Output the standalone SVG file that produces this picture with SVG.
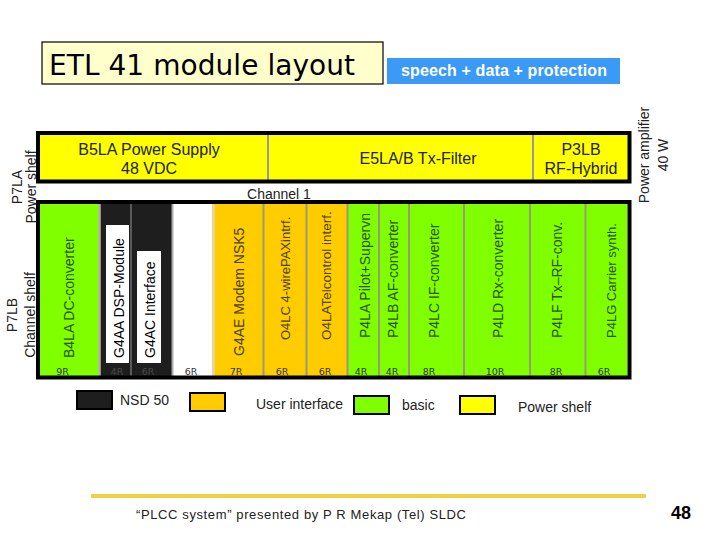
<svg xmlns="http://www.w3.org/2000/svg" width="720" height="540" viewBox="0 0 720 540">
<style>
  .lbl { font-family: "Liberation Sans", Arial, sans-serif; font-size: 14px; }
  .big { font-family: "Liberation Sans", Arial, sans-serif; font-size: 16px; fill: #222; }
  .gt { fill: #2d5200; }
  .ot { fill: #4d3f00; }
  .kt { fill: #000; }
  .r { font-family: "DejaVu Sans", Verdana, sans-serif; font-size: 9.5px; text-anchor: middle; fill: #333; }
  .rk { fill: #4a4a4a; }
  .div { stroke: #9a9a78; stroke-width: 2; }
  .frame { fill: none; stroke: #000; stroke-width: 4; }
  .leg { stroke: #000; stroke-width: 2; }
  .lt { font-family: "Liberation Sans", Arial, sans-serif; font-size: 14px; fill: #222; }
</style>
<rect width="720" height="540" fill="#fff"/>

<g id="title">
  <rect x="42" y="42" width="341" height="42" fill="#ffffcc" stroke="#000" stroke-width="1.2"/>
  <text x="49" y="75" font-family="DejaVu Sans, Verdana, sans-serif" font-size="28" textLength="306" fill="#000">ETL 41 module layout</text>
</g>

<g id="subtitle">
  <rect x="387" y="58" width="233" height="26" fill="#3a9af5"/>
  <text x="401" y="76" font-family="Liberation Sans, Arial, sans-serif" font-size="16" font-weight="bold" fill="#fff" textLength="206">speech + data  + protection</text>
</g>

<g id="shelf-labels" class="lbl" fill="#222">
  <text transform="translate(22,187) rotate(-90)" text-anchor="middle">P7LA</text>
  <text transform="translate(36,187) rotate(-90)" text-anchor="middle">Power shelf</text>
  <text transform="translate(17,315) rotate(-90)" text-anchor="middle">P7LB</text>
  <text transform="translate(35,315) rotate(-90)" text-anchor="middle">Channel shelf</text>
  <text transform="translate(649,155) rotate(-90)" text-anchor="middle">Power amplifier</text>
  <text transform="translate(668,155) rotate(-90)" text-anchor="middle">40 W</text>
</g>

<g id="power-shelf">
  <rect x="38" y="133" width="591.5" height="48.5" fill="#ffff00"/>
  <line x1="268" y1="134" x2="268" y2="180" stroke="#999" stroke-width="2"/>
  <line x1="533" y1="134" x2="533" y2="180" stroke="#999" stroke-width="2"/>
  <rect x="38" y="133" width="591.5" height="48.5" class="frame"/>
  <text x="149" y="155" class="big" text-anchor="middle">B5LA Power  Supply</text>
  <text x="149" y="174" class="big" text-anchor="middle">48 VDC</text>
  <text x="418" y="164" class="big" text-anchor="middle">E5LA/B Tx-Filter</text>
  <text x="581" y="155" class="big" text-anchor="middle">P3LB</text>
  <text x="581" y="173.5" class="big" text-anchor="middle">RF-Hybrid</text>
</g>

<text id="channel1" x="279" y="199" class="lbl" fill="#222" text-anchor="middle">Channel 1</text>

<g id="channel-shelf">
  <rect x="40" y="204" width="59.5" height="172" fill="#80ff00"/>
  <rect x="99.5" y="204" width="73" height="172" fill="#1e1e1e"/>
  <rect x="172.5" y="204" width="40.5" height="172" fill="#ffffff"/>
  <rect x="213" y="204" width="134.5" height="172" fill="#ffcc00"/>
  <rect x="347.5" y="204" width="280" height="172" fill="#80ff00"/>
  <rect x="106" y="225" width="23" height="138" fill="#fff"/>
  <rect x="137" y="251" width="24" height="112" fill="#fff"/>
  <line x1="99.5" y1="204" x2="99.5" y2="376" stroke="#b4b4a0" stroke-width="2.5"/>
  <line x1="131" y1="204" x2="131" y2="376" stroke="#5a5a5a" stroke-width="2"/>
  <line x1="172.5" y1="204" x2="172.5" y2="376" stroke="#aaa" stroke-width="2"/>
  <line x1="213.5" y1="204" x2="213.5" y2="376" stroke="#e6d890" stroke-width="3"/>
  <line x1="263.5" y1="204" x2="263.5" y2="376" class="div"/>
  <line x1="306.5" y1="204" x2="306.5" y2="376" class="div"/>
  <line x1="347.5" y1="204" x2="347.5" y2="376" class="div"/>
  <line x1="379" y1="204" x2="379" y2="376" class="div"/>
  <line x1="409" y1="204" x2="409" y2="376" class="div"/>
  <line x1="464" y1="204" x2="464" y2="376" class="div"/>
  <line x1="530" y1="204" x2="530" y2="376" class="div"/>
  <line x1="585.5" y1="204" x2="585.5" y2="376" class="div"/>
  <rect x="38" y="202" width="591.5" height="175.5" class="frame"/>
</g>

<g id="modules" class="lbl">
  <g id="m-b4la"><text class="gt" transform="translate(73.5,358) rotate(-90)">B4LA DC-converter</text><text class="r" x="62.5" y="374.5">9R</text></g>
  <g id="m-g4aa"><text class="kt" transform="translate(123.5,358) rotate(-90)">G4AA DSP-Module</text><text class="r rk" x="117" y="374.5">4R</text></g>
  <g id="m-g4ac"><text class="kt" transform="translate(155,358) rotate(-90)">G4AC Interface</text><text class="r rk" x="148" y="374.5">6R</text></g>
  <g id="m-empty"><text class="r" x="191" y="374.5" fill="#000">6R</text></g>
  <g id="m-g4ae"><text class="ot" transform="translate(244,356) rotate(-90)">G4AE Modem NSK5</text><text class="r" x="236" y="374.5">7R</text></g>
  <g id="m-o4lc"><text class="ot" transform="translate(290,340) rotate(-90)" font-size="13">O4LC 4-wirePAXintrf.</text><text class="r" x="282" y="374.5">6R</text></g>
  <g id="m-o4la"><text class="ot" transform="translate(331,340) rotate(-90)" font-size="13.5">O4LATelcontrol interf.</text><text class="r" x="325" y="374.5">6R</text></g>
  <g id="m-p4la"><text class="gt" transform="translate(370,338) rotate(-90)">P4LA Pilot+Supervn</text><text class="r" x="361" y="374.5">4R</text></g>
  <g id="m-p4lb"><text class="gt" transform="translate(397.5,338) rotate(-90)">P4LB AF-converter</text><text class="r" x="392" y="374.5">4R</text></g>
  <g id="m-p4lc"><text class="gt" transform="translate(439,338) rotate(-90)">P4LC IF-converter</text><text class="r" x="429" y="374.5">8R</text></g>
  <g id="m-p4ld"><text class="gt" transform="translate(503,338) rotate(-90)">P4LD Rx-converter</text><text class="r" x="495" y="374.5">10R</text></g>
  <g id="m-p4lf"><text class="gt" transform="translate(562,338) rotate(-90)">P4LF Tx–RF-conv.</text><text class="r" x="556" y="374.5">8R</text></g>
  <g id="m-p4lg"><text class="gt" transform="translate(616,338) rotate(-90)" font-size="13">P4LG Carrier synth.</text><text class="r" x="604" y="374.5">6R</text></g>
</g>

<g id="connectors"></g>

<g id="legend">
  <g id="leg-nsd"><rect x="77" y="391" width="35" height="18" fill="#1e1e1e" class="leg"/><text x="120" y="405" class="lt">NSD 50</text></g>
  <g id="leg-user"><rect x="190" y="393" width="35" height="18" fill="#ffcc00" class="leg"/><text x="256" y="409" class="lt">User interface</text></g>
  <g id="leg-basic"><rect x="354" y="396" width="35" height="18" fill="#80ff00" class="leg"/><text x="402" y="410" class="lt">basic</text></g>
  <g id="leg-power"><rect x="460" y="396" width="35" height="18" fill="#ffff00" class="leg"/><text x="518" y="412" class="lt">Power shelf</text></g>
</g>

<g id="footer">
  <line x1="91" y1="496" x2="646" y2="496" stroke="#f0d040" stroke-width="4"/>
  <text x="136" y="519" font-family="Liberation Sans, Arial, sans-serif" font-size="13" fill="#222" textLength="330">“PLCC system” presented by P R Mekap (Tel) SLDC</text>
  <text x="681" y="519" font-family="Liberation Sans, Arial, sans-serif" font-size="18" font-weight="bold" fill="#000" text-anchor="middle">48</text>
</g>
</svg>
